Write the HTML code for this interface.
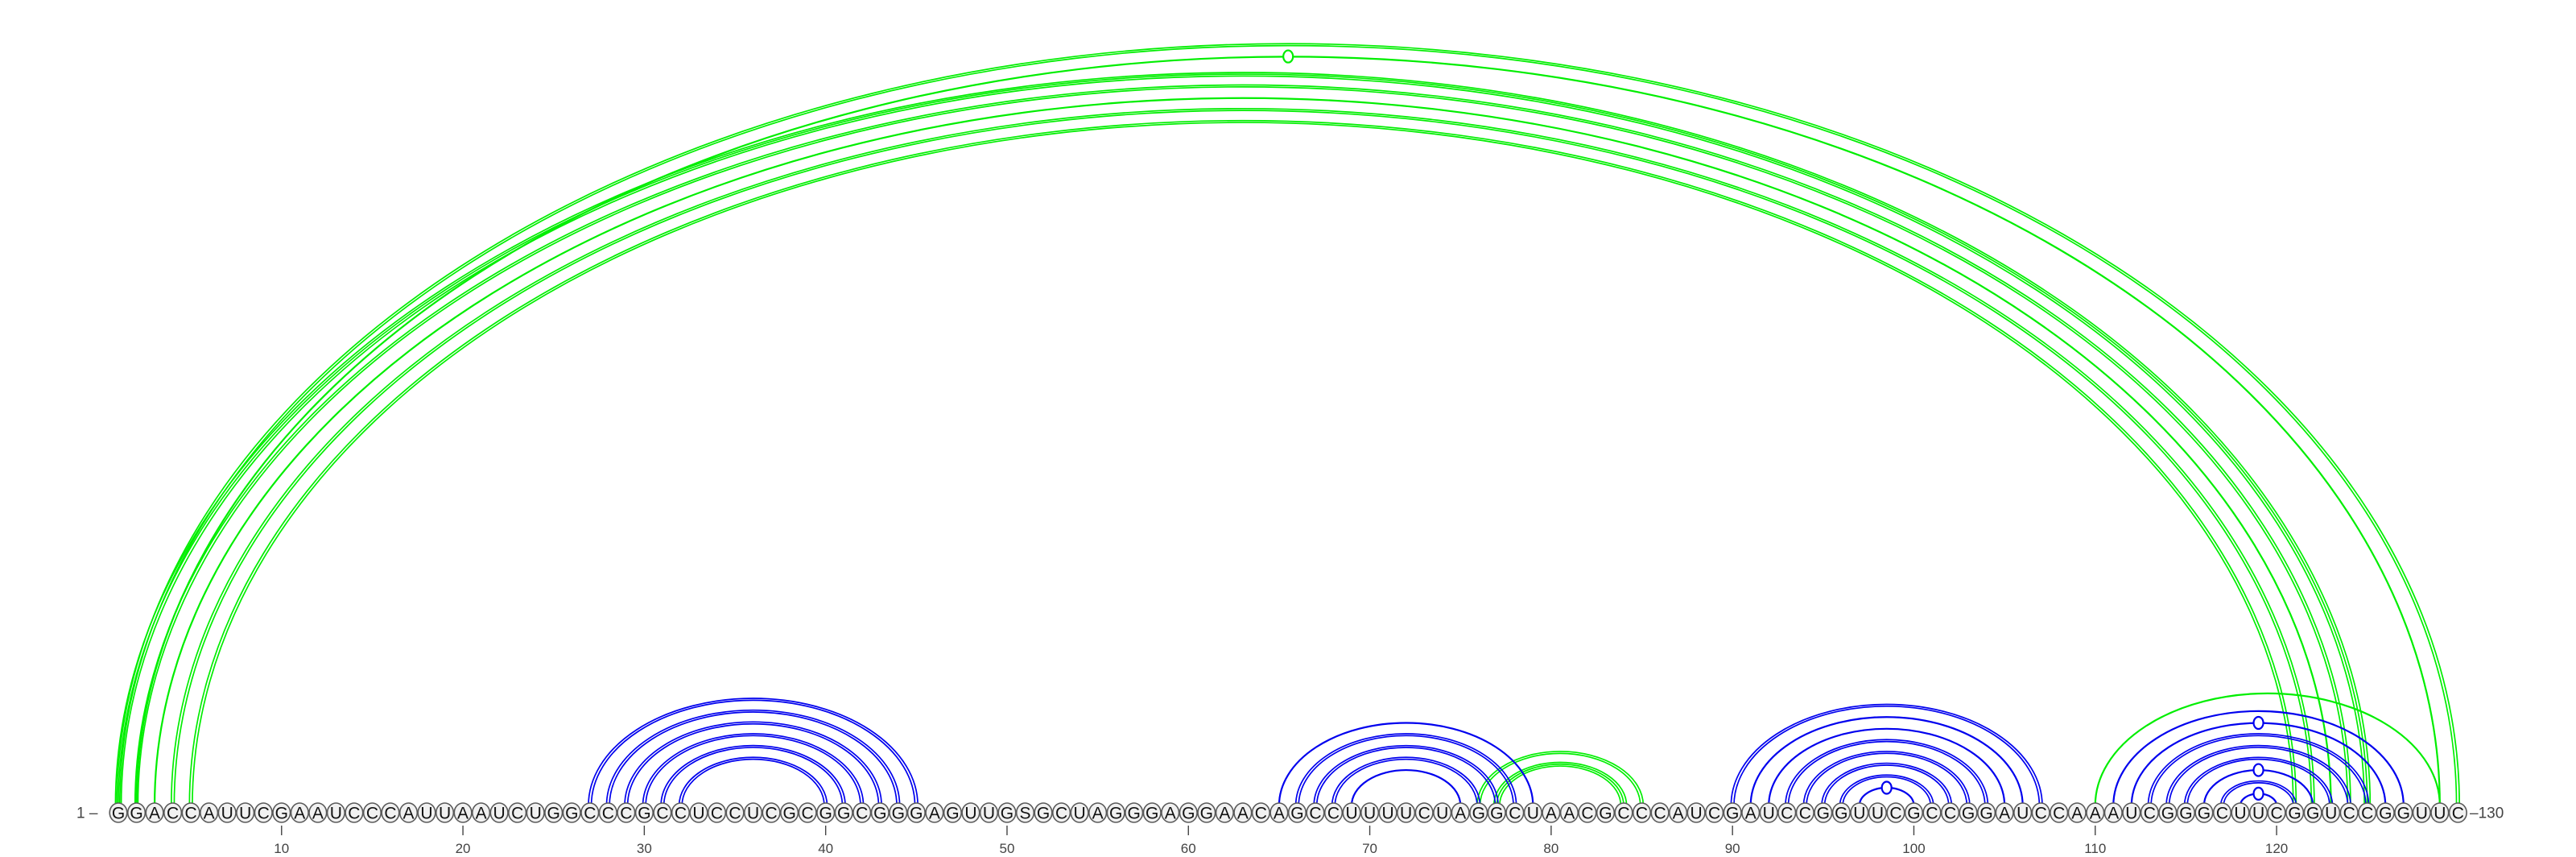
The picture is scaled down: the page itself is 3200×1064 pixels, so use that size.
<!DOCTYPE html>
<html><head><meta charset="utf-8"><style>
html,body{margin:0;padding:0;background:#fff;}
svg{display:block;}
text{font-family:"Liberation Sans",sans-serif;}
</style></head><body>
<svg id="chart" width="3200" height="1064" viewBox="0 0 3200 1064" xmlns="http://www.w3.org/2000/svg">
<g id="arcs"></g>
<g id="bases"></g>
<g id="axis"></g>
</svg>
<script>
const sequence = "GGACCAUUCGAAUCCCAUUAAUCUGGCCCGCCUCCUCGCGGCGGGAGUUGSGCUAGGGAGGAACAGCCUUUUCUAGGCUAACGCCCAUCGAUCCGGUUCGCCGGAUCCAAAUCGGGCUUCGGUCCGGUUC";
// blue pairs: [i, j, strands, marker]
const bluePairs = [
 [27,45,2,0],[28,44,2,0],[29,43,2,0],[30,42,2,0],[31,41,2,0],[32,40,2,0],
 [65,79,1,0],[66,78,2,0],[67,77,2,0],[68,76,2,0],[69,75,1,0],
 [90,107,2,0],[91,106,1,0],[92,105,1,0],[93,104,2,0],[94,103,2,0],[95,102,2,0],[96,101,2,0],[97,100,1,1],
 [111,127,1,0],[112,126,1,1],[113,125,2,0],[114,124,2,0],[115,123,2,0],[116,122,1,1],[117,121,2,0],[118,120,1,1]
];
const greenPairs = [
 [1,130,2,0],[2,129,1,1],
 [1,125,3,0],[2,124,2,0],[3,123,1,0],[4,122,2,0],[5,121,2,0],
 [76,85,2,0],[77,84,3,0],[110,129,1,0]
];
const tickPositions = [10,20,30,40,50,60,70,80,90,100,110,120];

const NS = "http://www.w3.org/2000/svg";
const X0 = 147, DX = 22.53, BASEY = 1009, ARCY = 1000, RATIO = 0.65;
function xPos(i){ return X0 + (i-1)*DX; }
function mk(tag, attrs, parent){
  const e = document.createElementNS(NS, tag);
  for (const k in attrs) e.setAttribute(k, attrs[k]);
  parent.appendChild(e); return e;
}
const arcsG = document.getElementById('arcs');
function drawPair(p, color, kind){
  const cx = (xPos(p[0]) + xPos(p[1]))/2;
  const R = (xPos(p[1]) - xPos(p[0]))/2;
  const n = p[2];
  const sw = n === 1 ? 2.2 : 1.7;
  const g = mk('g', {}, arcsG);
  
  
  for (let s = 0; s < n; s++){
    const off = (s - (n-1)/2) * 3.6;
    const r = R + off, ry = r * RATIO;
    const d = 'M' + (cx - r) + ' ' + ARCY + ' A' + r + ' ' + ry + ' 0 0 1 ' + (cx + r) + ' ' + ARCY;
    const path = mk('path', {d: d, fill: 'none', stroke: color, 'stroke-width': sw}, g);
    
    
  }
  if (p[3]){
    const m = mk('ellipse', {cx: cx, cy: ARCY - R*RATIO, rx: 6, ry: 7.5, fill: '#fff', stroke: color, 'stroke-width': 2.2}, g);
    
    
  }
}
greenPairs.forEach(p => drawPair(p, '#00ee00', 'green'));
bluePairs.forEach(p => drawPair(p, '#0000ee', 'blue'));

const basesG = document.getElementById('bases');
for (let i = 1; i <= sequence.length; i++){
  const g = mk('g', {}, basesG);
  
  
  mk('ellipse', {cx: xPos(i), cy: BASEY, rx: 10.8, ry: 12, fill: '#f1f1f1', stroke: '#5a5a5a', 'stroke-width': 1.6}, g);
  const t = mk('text', {x: xPos(i), y: BASEY + 7.5, 'text-anchor': 'middle', 'font-size': 21, fill: '#111'}, g);
  t.textContent = sequence[i-1];
}
const axisG = document.getElementById('axis');
const l1 = mk('text', {x: 95, y: BASEY + 6.5, 'font-size': 19, fill: '#444'}, axisG);
l1.textContent = '1 \u2013';


const l2 = mk('text', {x: 3068, y: BASEY + 6.5, 'font-size': 19, fill: '#444'}, axisG);
l2.textContent = '\u2013130';


tickPositions.forEach(v => {
  const g = mk('g', {}, axisG);
  
  
  mk('line', {x1: xPos(v), x2: xPos(v), y1: 1025, y2: 1037, stroke: '#444', 'stroke-width': 1.4}, g);
  const t = mk('text', {x: xPos(v), y: 1059, 'text-anchor': 'middle', 'font-size': 17, fill: '#444'}, g);
  t.textContent = v;
});
</script>
</body></html>
